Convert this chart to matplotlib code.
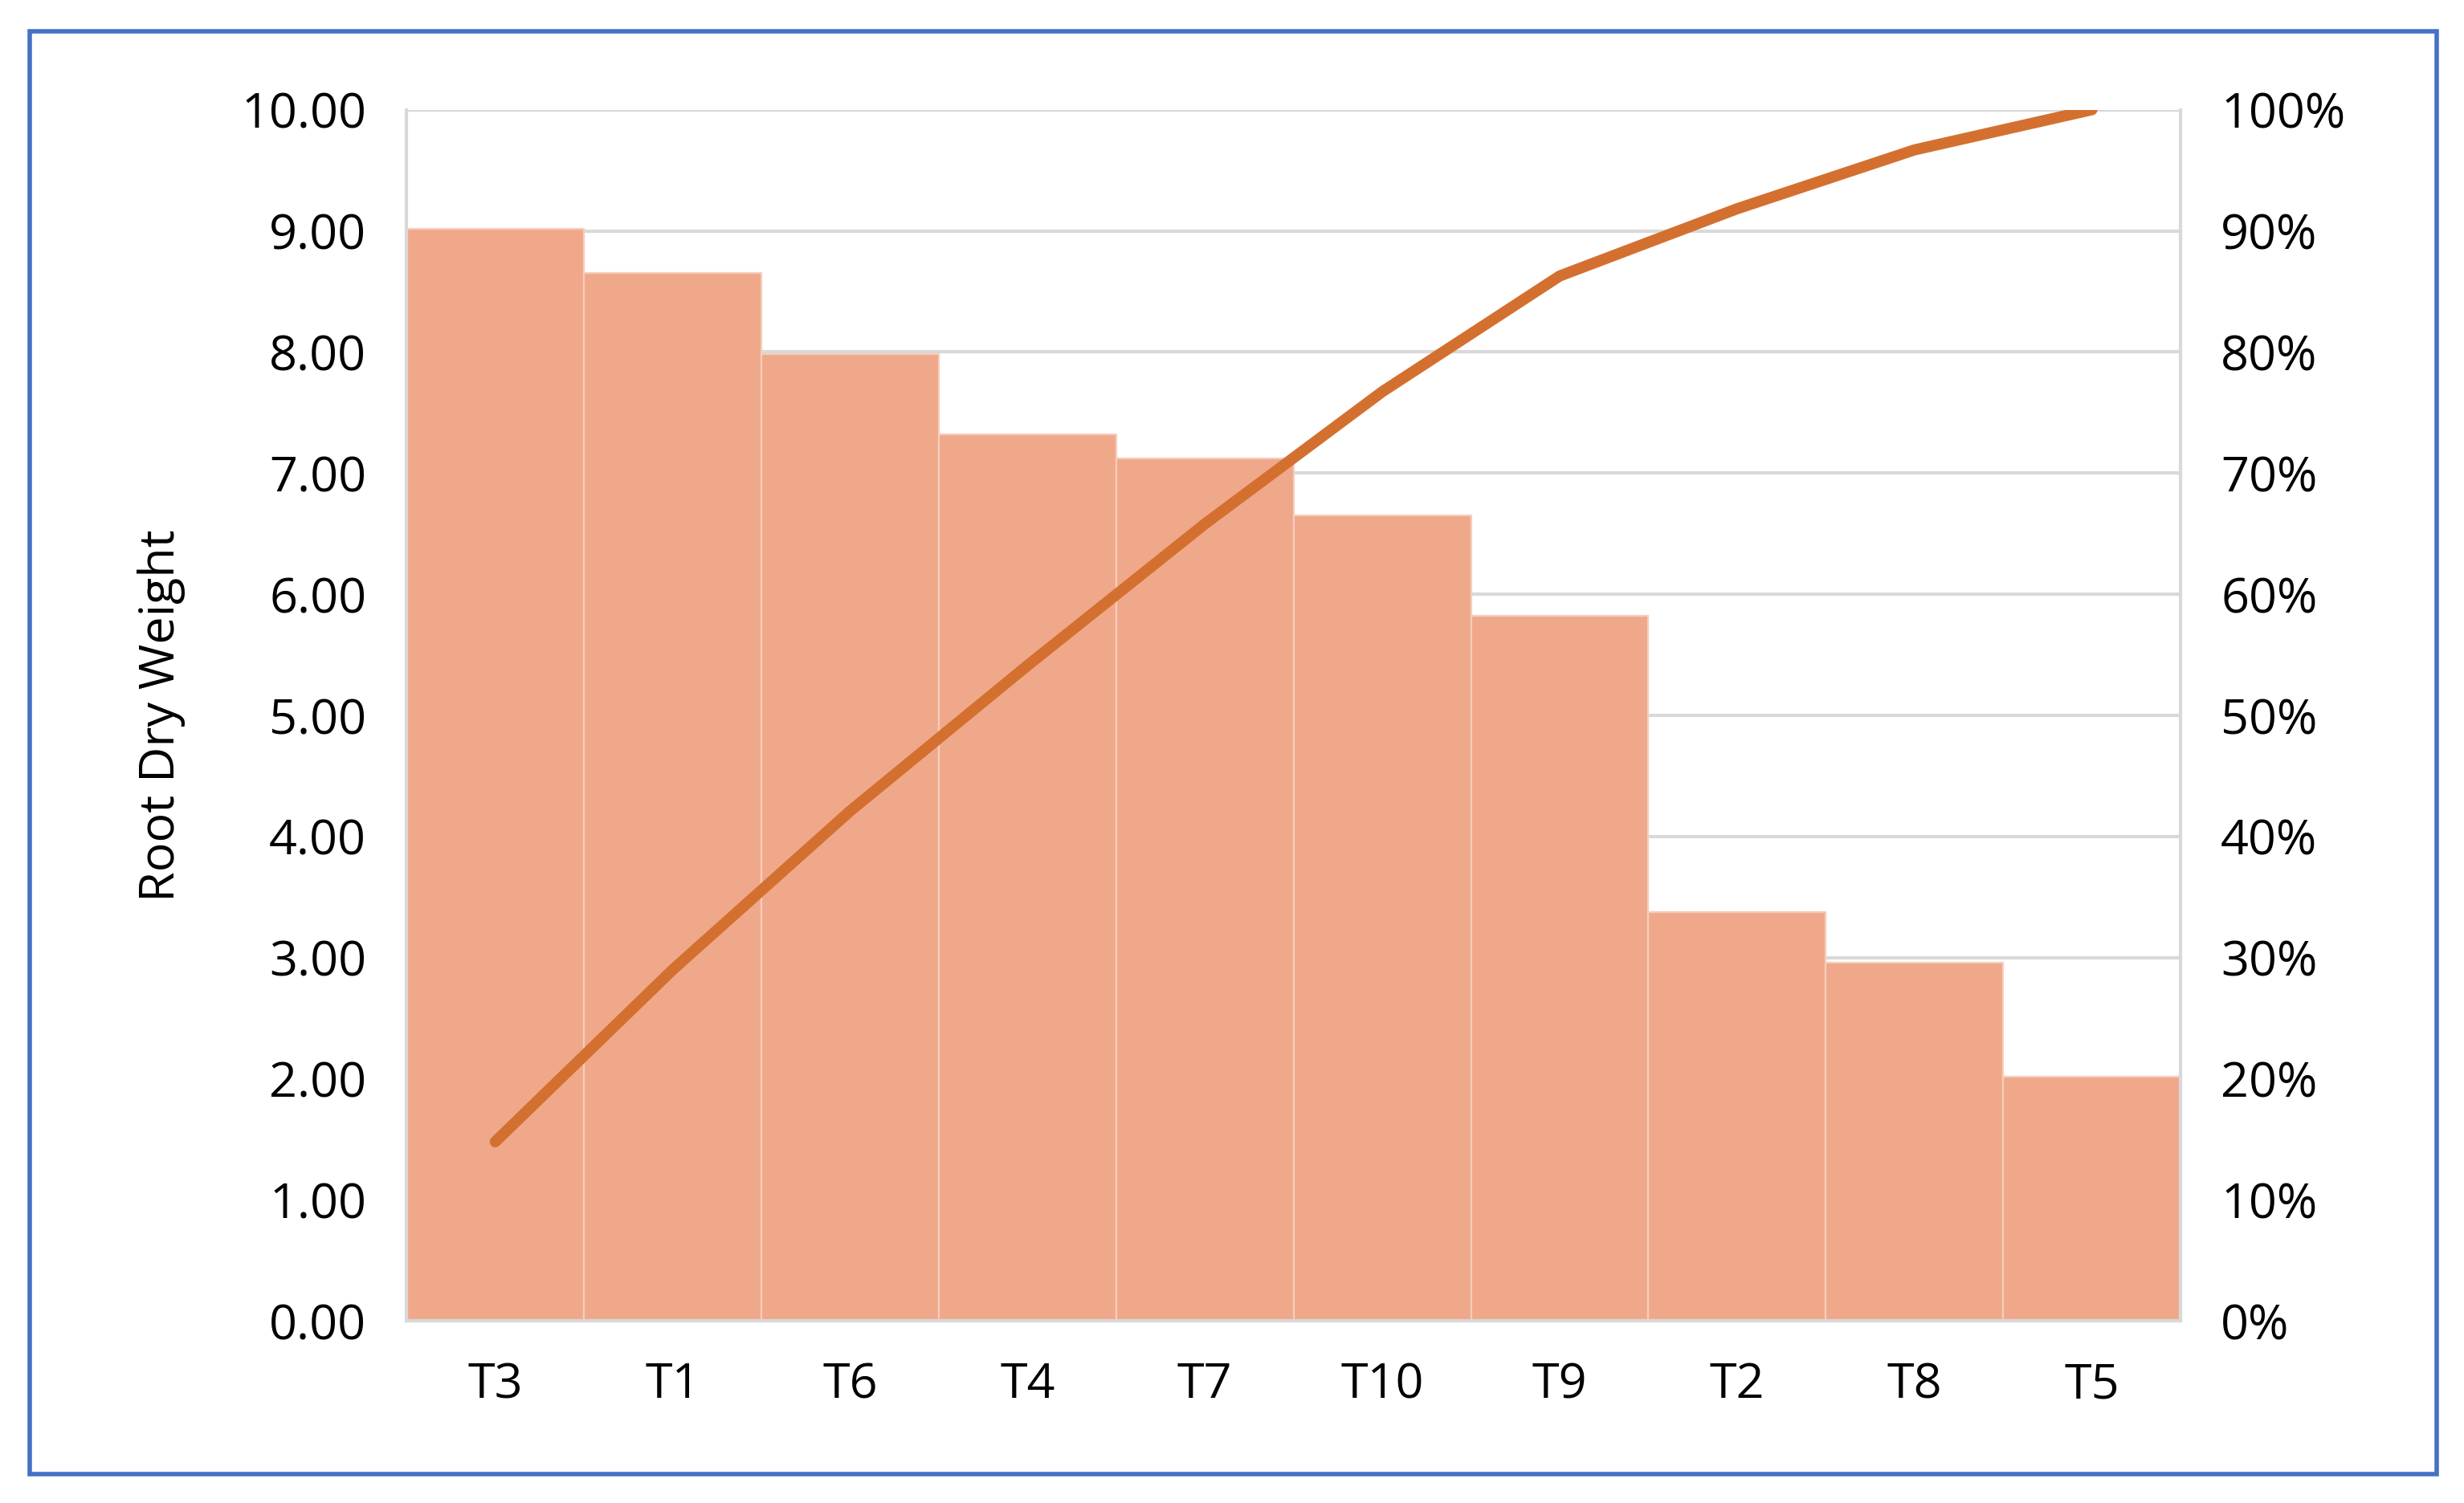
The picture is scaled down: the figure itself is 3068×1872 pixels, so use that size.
import numpy as np
import matplotlib
matplotlib.use("Agg")
import matplotlib.pyplot as plt
from matplotlib.patches import Rectangle

categories = ["T3", "T1", "T6", "T4", "T7", "T10", "T9", "T2", "T8", "T5"]
weights = [9.02, 8.65, 7.98, 7.32, 7.12, 6.65, 5.82, 3.38, 2.96, 2.02]

BAR = "#F0A88A"; LINE = "#D4702F"; GRID = "#D9D9D9"; INK = "#000000"
plt.rcParams["font.family"] = ["Open Sans", "DejaVu Sans"]

fig = plt.figure(figsize=(15.34, 9.36), dpi=200)
ax = fig.add_axes([0.165, 0.121, 0.72, 0.806])
x = np.arange(len(categories))
ax.bar(x, weights, width=1.0, color=BAR, edgecolor="#F6CDBB", linewidth=0.8, zorder=2)
ax.set_xlim(-0.5, len(categories) - 0.5)
ax.set_ylim(0, 10)
ax.set_yticks(np.arange(0, 11, 1))
ax.set_yticklabels([f"{v:.2f}" for v in range(11)])
ax.set_xticks(x)
ax.set_xticklabels(categories)
ax.grid(axis="y", color=GRID, lw=1.5, zorder=0)
ax.set_axisbelow(True)
ax.tick_params(length=0, labelsize=22, pad=18)
ax.set_ylabel("Root Dry Weight", fontsize=22, labelpad=25)
for s in ax.spines.values():
    s.set_color(GRID); s.set_linewidth(1.5)
ax.spines["top"].set_visible(False)

cum = np.cumsum(weights) / np.sum(weights) * 100
ax2 = ax.twinx()
ax2.plot(x, cum, color=LINE, lw=5, solid_capstyle="round", zorder=3)
ax2.set_ylim(0, 100)
ax2.set_yticks(np.arange(0, 101, 10))
ax2.set_yticklabels([f"{v}%" for v in range(0, 101, 10)])
ax2.tick_params(length=0, labelsize=22, pad=18)
for s in ax2.spines.values():
    s.set_visible(False)

fig.patches.append(Rectangle((0.012, 0.019), 0.977, 0.96, transform=fig.transFigure,
                             fill=False, edgecolor="#4472C4", lw=2))
fig.savefig("out.png", facecolor="white")
